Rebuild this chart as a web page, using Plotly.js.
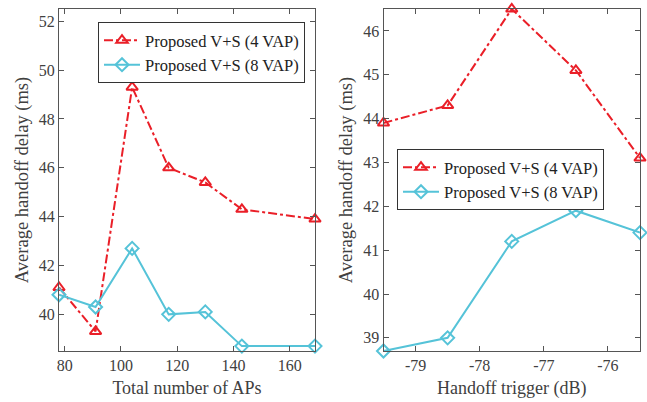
<!DOCTYPE html>
<html>
<head>
<meta charset="utf-8">
<script src="https://cdn.plot.ly/plotly-3.0.1.min.js"></script>
<style>html,body{margin:0;padding:0;background:#fff;}#chart{width:647px;height:402px;}</style>
</head>
<body>
<div id="chart"></div>
<script>
// Left panel
const apCounts = [78, 91, 104, 117, 130, 143, 169];
const left4VAP = [41.1, 39.3, 49.3, 46.0, 45.4, 44.3, 43.9];
const left8VAP = [40.8, 40.3, 42.7, 40.0, 40.1, 38.7, 38.7];
// Right panel
const triggers = [-79.5, -78.5, -77.5, -76.5, -75.5];
const right4VAP = [43.9, 44.3, 46.5, 45.1, 43.1];
const right8VAP = [38.7, 39.0, 41.2, 41.9, 41.4];
const seriesNames = ['Proposed V+S (4 VAP)', 'Proposed V+S (8 VAP)'];
const leftXTicks = [80, 100, 120, 140, 160];
const leftYTicks = [40, 42, 44, 46, 48, 50, 52];
const rightXTicks = [-79, -78, -77, -76];
const rightXTickText = ['-79', '-78', '-77', '-76'];
const rightYTicks = [39, 40, 41, 42, 43, 44, 45, 46];

const RED = '#ea1f28', CYAN = '#55c3d8';
const FONT = '"Liberation Serif", "Times New Roman", serif';
const TXT = '#404040', AX = '#555555';

function redTrace(x, y, xa, ya, lg) {
  return {x, y, xaxis: xa, yaxis: ya, legend: lg, type: 'scatter', mode: 'lines+markers', name: seriesNames[0],
    cliponaxis: false,
    line: {color: RED, width: 2, dash: 'dashdot'},
    marker: {symbol: 'triangle-up-open', size: 10, color: RED, line: {color: RED, width: 2}}};
}
function cyanTrace(x, y, xa, ya, lg) {
  return {x, y, xaxis: xa, yaxis: ya, legend: lg, type: 'scatter', mode: 'lines+markers', name: seriesNames[1],
    cliponaxis: false,
    line: {color: CYAN, width: 2},
    marker: {symbol: 'diamond-open', size: 10, color: CYAN, line: {color: CYAN, width: 2}}};
}
const data = [
  redTrace(apCounts, left4VAP, 'x', 'y', 'legend'),
  cyanTrace(apCounts, left8VAP, 'x', 'y', 'legend'),
  redTrace(triggers, right4VAP, 'x2', 'y2', 'legend2'),
  cyanTrace(triggers, right8VAP, 'x2', 'y2', 'legend2')
];
function ax(extra) {
  return Object.assign({
    showgrid: false, zeroline: false, showline: true, linecolor: AX, linewidth: 1, mirror: 'ticks',
    ticks: 'inside', ticklen: 5, tickcolor: AX, tickwidth: 1,
    tickfont: {family: FONT, size: 16, color: TXT}
  }, extra);
}
const titleFont = {family: FONT, size: 18, color: TXT};
const legendCommon = {
  bgcolor: '#ffffff', bordercolor: '#333333', borderwidth: 1,
  font: {family: FONT, size: 16.5, color: '#222222'}, xanchor: 'left', yanchor: 'top',
  tracegroupgap: 0, itemwidth: 36
};
const layout = {
  width: 647, height: 402,
  margin: {l: 0, r: 0, t: 9, b: 51},
  paper_bgcolor: '#fff', plot_bgcolor: '#fff',
  showlegend: true,
  xaxis: ax({domain: [59/647, 315/647], range: [78, 169], tickvals: leftXTicks, anchor: 'y',
    title: {text: 'Total number of APs', font: titleFont, standoff: 8}}),
  yaxis: ax({domain: [0, 1], range: [38.5, 52.5], tickvals: leftYTicks, anchor: 'x',
    title: {text: 'Average handoff delay (ms)', font: Object.assign({}, titleFont, {size: 18.5}), standoff: 5}}),
  xaxis2: ax({domain: [383.5/647, 640/647], range: [-79.5, -75.5], tickvals: rightXTicks, ticktext: rightXTickText, anchor: 'y2',
    title: {text: 'Handoff trigger (dB)', font: titleFont, standoff: 8}}),
  yaxis2: ax({domain: [0, 1], range: [38.7, 46.5], tickvals: rightYTicks, anchor: 'x2',
    title: {text: 'Average handoff delay (ms)', font: Object.assign({}, titleFont, {size: 18.5}), standoff: 5}}),
  legend: Object.assign({x: 98/647, y: 1 - (22-9)/342}, legendCommon),
  legend2: Object.assign({x: 397/647, y: 1 - (149-9)/342}, legendCommon)
};
Plotly.newPlot('chart', data, layout, {displayModeBar: false, staticPlot: true});
</script>
</body>
</html>
